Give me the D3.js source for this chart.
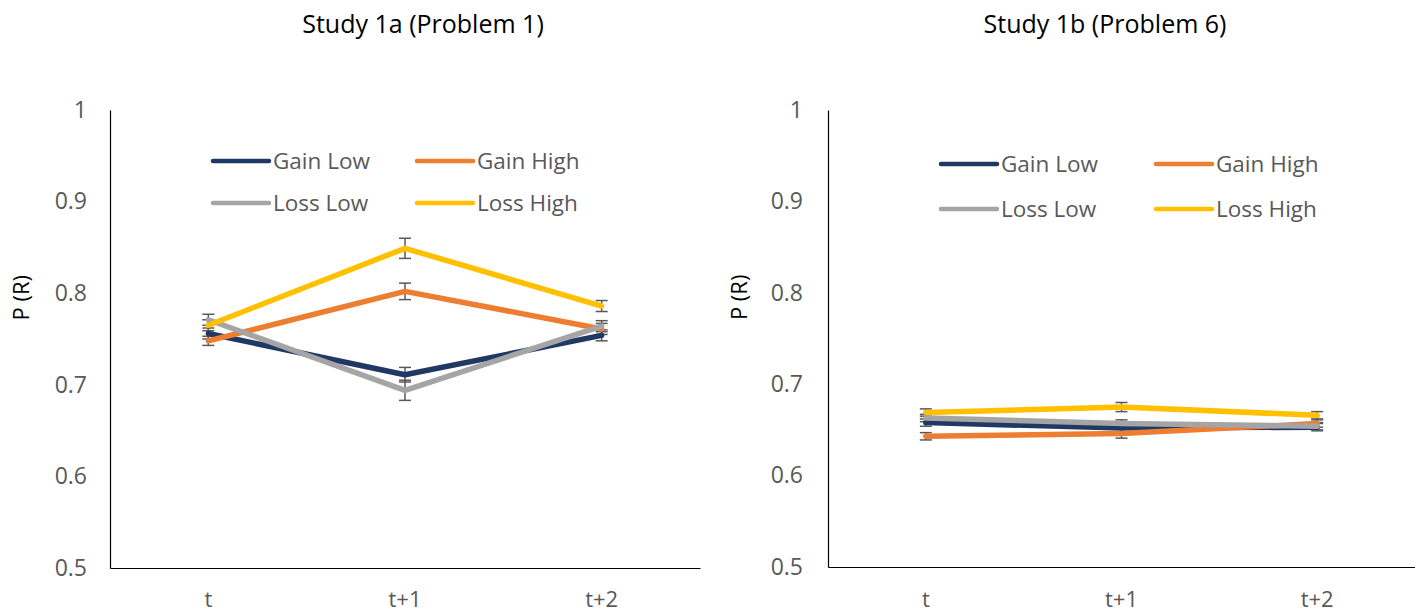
<!DOCTYPE html>
<html>
<head>
<meta charset="utf-8">
<script src="https://cdn.jsdelivr.net/npm/d3@7"></script>
<style>
  body { margin: 0; background: #fff; }
  text { font-family: "Open Sans", sans-serif; }
</style>
</head>
<body>
<div id="chart"></div>
<script>
// categories and series
const periods = ["t", "t+1", "t+2"];
const seriesNames = ["Gain Low", "Gain High", "Loss Low", "Loss High"];
const seriesColors = ["#203864", "#ED7D31", "#A5A5A5", "#FFC000"];
const yTicks = [0.5, 0.6, 0.7, 0.8, 0.9, 1];

// Study 1a (Problem 1)
const study1aGainLow = [0.756, 0.711, 0.754];
const study1aGainHigh = [0.748, 0.802, 0.761];
const study1aLossLow = [0.771, 0.694, 0.764];
const study1aLossHigh = [0.765, 0.849, 0.786];
const study1aErrGainLow = [0.006, 0.008, 0.006];
const study1aErrGainHigh = [0.005, 0.009, 0.006];
const study1aErrLossLow = [0.006, 0.011, 0.006];
const study1aErrLossHigh = [0.006, 0.011, 0.006];

// Study 1b (Problem 6)
const study1bGainLow = [0.658, 0.652, 0.653];
const study1bGainHigh = [0.643, 0.646, 0.657];
const study1bLossLow = [0.663, 0.657, 0.654];
const study1bLossHigh = [0.669, 0.675, 0.666];
const study1bErrGainLow = [0.004, 0.004, 0.004];
const study1bErrGainHigh = [0.004, 0.005, 0.004];
const study1bErrLossLow = [0.004, 0.004, 0.004];
const study1bErrLossHigh = [0.004, 0.005, 0.004];

const W = 1415, H = 615;
const svg = d3.select("#chart").append("svg")
    .attr("width", W)
    .attr("height", H);

function drawPanel(opts) {
    const x = d3.scaleBand()
        .domain(periods)
        .range([opts.left, opts.right]);
    const y = d3.scaleLinear()
        .domain([0.5, 1])
        .range([opts.bottom, opts.top]);

    const g = svg.append("g");

    // title
    g.append("text")
        .attr("x", opts.titleX)
        .attr("y", 33)
        .attr("text-anchor", "middle")
        .attr("font-size", 25)
        .attr("fill", "#000")
        .text(opts.title);

    // y axis
    const yAxis = g.append("g")
        .attr("transform", "translate(" + opts.left + ",0)")
        .call(d3.axisLeft(y).tickValues(yTicks).tickSize(0).tickPadding(opts.yPad)
            .tickFormat(d => d === 1 ? "1" : d3.format(".1f")(d)));
    yAxis.select(".domain").attr("stroke", "#000").attr("stroke-width", 1.2);
    yAxis.selectAll("text")
        .attr("font-size", 23)
        .attr("fill", "#595959")
        .style("font-family", "'Open Sans', sans-serif");

    // x axis
    const xAxis = g.append("g")
        .attr("transform", "translate(0," + opts.bottom + ")")
        .call(d3.axisBottom(x).tickSize(0).tickPadding(0));
    xAxis.select(".domain").attr("stroke", "#000").attr("stroke-width", 1.2);
    xAxis.selectAll("text")
        .attr("y", 607 - opts.bottom)
        .attr("dy", null)
        .attr("font-size", 22)
        .attr("fill", "#595959")
        .style("font-family", "'Open Sans', sans-serif");

    // y axis title
    g.append("text")
        .attr("transform", "translate(" + opts.yTitleX + "," + y(0.795) + ") rotate(-90)")
        .attr("text-anchor", "middle")
        .attr("font-size", 22)
        .attr("fill", "#000")
        .text("P (R)");

    const line = d3.line()
        .x((d, i) => x(periods[i]) + x.bandwidth() / 2)
        .y(d => y(d));

    // error bars
    opts.values.forEach(function(vals, s) {
        const errs = opts.errors[s];
        const eb = g.append("g").attr("stroke", "#595959").attr("stroke-width", 1.5);
        vals.forEach(function(v, i) {
            const cx = x(periods[i]) + x.bandwidth() / 2;
            eb.append("line")
                .attr("x1", cx).attr("x2", cx)
                .attr("y1", y(v - errs[i])).attr("y2", y(v + errs[i]));
            eb.append("line")
                .attr("x1", cx - 6).attr("x2", cx + 6)
                .attr("y1", y(v - errs[i])).attr("y2", y(v - errs[i]));
            eb.append("line")
                .attr("x1", cx - 6).attr("x2", cx + 6)
                .attr("y1", y(v + errs[i])).attr("y2", y(v + errs[i]));
        });
    });

    // lines
    opts.values.forEach(function(vals, s) {
        g.append("path")
            .datum(vals)
            .attr("fill", "none")
            .attr("stroke", seriesColors[s])
            .attr("stroke-width", 5.5)
            .attr("stroke-linecap", "round")
            .attr("stroke-linejoin", "round")
            .attr("d", line);
    });

    // legend
    seriesNames.forEach(function(name, s) {
        const col = s % 2, row = Math.floor(s / 2);
        const lx = opts.legendX[col], ly = opts.legendY[row];
        g.append("line")
            .attr("x1", lx).attr("x2", lx + 56)
            .attr("y1", ly).attr("y2", ly)
            .attr("stroke", seriesColors[s])
            .attr("stroke-width", 4.5)
            .attr("stroke-linecap", "round");
        g.append("text")
            .attr("x", lx + 60)
            .attr("y", ly)
            .attr("dy", "0.35em")
            .attr("font-size", 22.5)
            .attr("fill", "#595959")
            .text(name);
    });
}

drawPanel({
    title: "Study 1a (Problem 1)",
    titleX: 423,
    left: 110, right: 700, top: 110, bottom: 568,
    yPad: 23,
    yTitleX: 29,
    values: [study1aGainLow, study1aGainHigh, study1aLossLow, study1aLossHigh],
    errors: [study1aErrGainLow, study1aErrGainHigh, study1aErrLossLow, study1aErrLossHigh],
    legendX: [213, 417],
    legendY: [161, 203]
});

drawPanel({
    title: "Study 1b (Problem 6)",
    titleX: 1105,
    left: 828, right: 1415, top: 110, bottom: 567,
    yPad: 25,
    yTitleX: 747,
    values: [study1bGainLow, study1bGainHigh, study1bLossLow, study1bLossHigh],
    errors: [study1bErrGainLow, study1bErrGainHigh, study1bErrLossLow, study1bErrLossHigh],
    legendX: [941, 1156],
    legendY: [164, 209]
});
</script>
</body>
</html>
